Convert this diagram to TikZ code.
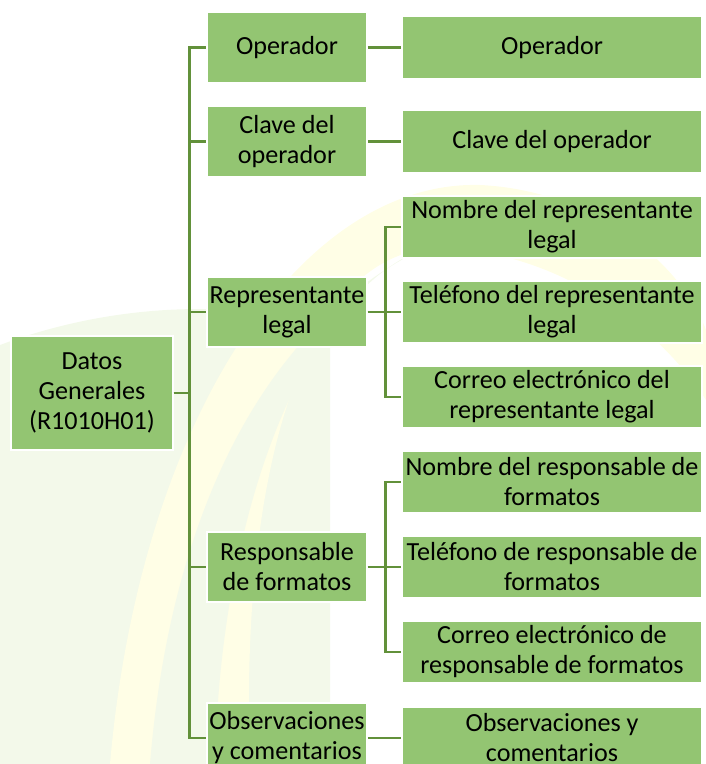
\documentclass[tikz,border=0pt]{standalone}
\usepackage{fontspec}
\setmainfont{Carlito}
\usetikzlibrary{calc}
\definecolor{boxgreen}{RGB}{147,197,114}
\definecolor{linegreen}{RGB}{98,145,58}
\definecolor{wmgreen}{RGB}{243,249,234}
\definecolor{wmyellow}{RGB}{255,254,230}

\begin{document}
\begin{tikzpicture}[x=0.75pt,y=-0.75pt,
	box/.style={fill=boxgreen, draw=white, line width=1.2pt, inner sep=0pt, align=center, font=\fontsize{19.6}{22.5}\selectfont},
	rootbox/.style={box, minimum width=121.5pt, minimum height=85.5pt},
	groupbox/.style={box, minimum width=120pt, minimum height=52.5pt},
	itembox/.style={box, minimum width=225pt, minimum height=46.5pt},
	link/.style={draw=linegreen, line width=2pt}]
		%%%%% START %%%%%
		
		\useasboundingbox (0,0) rectangle (706,764);
		
		% faint watermark behind the chart
		\fill[wmgreen] (0,345) .. controls (120,300) and (250,300) .. (330,330) -- (330,764) -- (0,764) -- cycle;
		\fill[wmyellow] (110,764) .. controls (140,420) and (300,180) .. (480,185) .. controls (590,190) and (680,260) .. (706,330) -- (706,400) .. controls (640,300) and (520,240) .. (420,250) .. controls (300,270) and (240,480) .. (250,764) -- cycle;
		\fill[wmgreen] (150,764) .. controls (170,520) and (260,330) .. (420,250) .. controls (300,300) and (220,520) .. (215,764) -- cycle;
		
		% root
		\node[rootbox] (datos) at (92, 393) {Datos\\Generales\\(R1010H01)};
		
		% first level
		\node[groupbox] (oper) at (287, 47.5) {Operador};
		\node[groupbox] (clave) at (287, 141.5) {Clave del\\operador};
		\node[groupbox] (repre) at (287, 312) {Representante\\legal};
		\node[groupbox] (respo) at (287, 567) {Responsable\\de formatos};
		\node[groupbox] (obser) at (287, 738) {Observaciones\\y comentarios};
		
		% second level
		\node[itembox] (operitem) at (552, 47.5) {Operador};
		\node[itembox] (claveitem) at (552, 141.5) {Clave del operador};
		\node[itembox] (repnombre) at (552, 227) {Nombre del representante\\legal};
		\node[itembox] (reptel) at (552, 312) {Teléfono del representante\\legal};
		\node[itembox] (repcorreo) at (552, 397) {Correo electrónico del\\representante legal};
		\node[itembox] (resnombre) at (552, 482) {Nombre del responsable de\\formatos};
		\node[itembox] (restel) at (552, 567) {Teléfono de responsable de\\formatos};
		\node[itembox] (rescorreo) at (552, 652) {Correo electrónico de\\responsable de formatos};
		\node[itembox] (obseritem) at (552, 738) {Observaciones y\\comentarios};
		
		% connectors
		\foreach \grp in {oper,clave,repre,respo,obser}
			\draw[link] (datos.east) -- ++(16,0) |- (\grp.west);
		\draw[link] (oper.east) -- (operitem.west);
		\draw[link] (clave.east) -- (claveitem.west);
		\draw[link] (obser.east) -- (obseritem.west);
		\foreach \itm in {repnombre,reptel,repcorreo}
			\draw[link] (repre.east) -- ++(18,0) |- (\itm.west);
		\foreach \itm in {resnombre,restel,rescorreo}
			\draw[link] (respo.east) -- ++(18,0) |- (\itm.west);
		
		%%%%% END %%%%%
\end{tikzpicture}
\end{document}
